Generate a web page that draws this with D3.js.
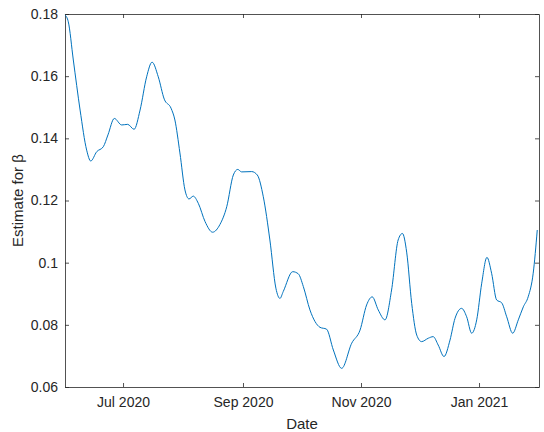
<!DOCTYPE html>
<html>
<head>
    <meta charset="utf-8">
    <title>Estimate for beta</title>
    <script src="https://d3js.org/d3.v7.min.js"></script>
    <style>
        body { margin: 0; background: #fff; }
        .axis text { font-family: "Liberation Sans", Arial, sans-serif; font-size: 14px; fill: #262626; }
        .label { font-family: "Liberation Sans", Arial, sans-serif; font-size: 15px; fill: #262626; }
    </style>
</head>
<body>
    <script>
        // series: day offset from 1 Jun 2020 and estimated beta
        var startDate = "2020-06-01";
        var dayOffsets = [0, 1.7, 4.3, 7.8, 11.2, 13.3, 16.4, 19.8, 22.2, 25.5, 29.3, 32.4, 35.7, 38.8,
            42.2, 45.0, 48.2, 51.3, 54.8, 56.8, 59.4, 62.0, 64.1, 66.3, 68.9, 72.4, 76.3, 80.1, 83.6,
            87.0, 89.3, 91.3, 96.5, 99.4, 102.5, 105.9, 109.0, 111.1, 112.8, 117.7, 120.6, 123.2,
            126.6, 131.8, 135.2, 138.7, 143.0, 148.2, 152.5, 155.9, 158.8, 161.9, 165.4, 168.8,
            172.2, 174.4, 176.6, 179.2, 181.8, 184.3, 187.8, 190.3, 192.9, 195.9, 199.0, 201.6,
            205.0, 207.6, 210.2, 212.8, 215.4, 218.1, 220.5, 223.1, 225.7, 228.3, 231.4, 234.3,
            236.9, 239.4, 242.0, 244.1];
        var beta = [0.1797, 0.1775, 0.1652, 0.1491, 0.1362, 0.1327, 0.1357, 0.1373, 0.1411, 0.1464,
            0.1443, 0.1445, 0.1429, 0.1491, 0.1598, 0.1645, 0.1598, 0.1526, 0.1497, 0.1459, 0.1353,
            0.1234, 0.1205, 0.1214, 0.1191, 0.1132, 0.1098, 0.1123, 0.1180, 0.1282, 0.1300, 0.1292,
            0.1293, 0.1282, 0.1212, 0.1073, 0.0918, 0.0885, 0.0907, 0.0971, 0.0964, 0.0923, 0.0848,
            0.0792, 0.0786, 0.0719, 0.0660, 0.0741, 0.0783, 0.0864, 0.0890, 0.0848, 0.0816, 0.0912,
            0.1073, 0.1094, 0.1034, 0.0869, 0.0767, 0.0746, 0.0757, 0.0762, 0.0735, 0.0698, 0.0751,
            0.0821, 0.0853, 0.0826, 0.0773, 0.0816, 0.0934, 0.1017, 0.0966, 0.0880, 0.0871, 0.0826,
            0.0773, 0.0816, 0.0858, 0.0890, 0.0966, 0.1105];
        var xTicks = ["2020-07-01", "2020-09-01", "2020-11-01", "2021-01-01"];
        var yTicks = [0.06, 0.08, 0.1, 0.12, 0.14, 0.16, 0.18];

        var width = 544, height = 432;
        var margin = {top: 14, right: 5, bottom: 45, left: 65};
        var parse = d3.utcParse("%Y-%m-%d");
        var t0 = parse(startDate);

        var data = dayOffsets.map(function(d, i) {
            return {date: new Date(t0.getTime() + d * 864e5), value: beta[i]};
        });

        var x = d3.scaleUtc()
            .domain([t0, parse("2021-02-01")])
            .range([margin.left, width - margin.right]);
        var y = d3.scaleLinear()
            .domain([0.06, 0.18])
            .range([height - margin.bottom, margin.top]);

        var svg = d3.select("body").append("svg")
            .attr("width", width)
            .attr("height", height);

        var fmtX = d3.utcFormat("%b %Y");
        var fmtY = function(d) { return d === 0.1 ? "0.1" : d3.format(".2f")(d); };
        var tickDates = xTicks.map(parse);

        // bottom + top axes (ticks inward)
        svg.append("g").attr("class", "axis")
            .attr("transform", "translate(0," + y.range()[0] + ")")
            .call(d3.axisBottom(x).tickValues(tickDates).tickFormat(fmtX).tickSizeInner(-4).tickSizeOuter(0).tickPadding(10));
        svg.append("g").attr("class", "axis")
            .attr("transform", "translate(0," + y.range()[1] + ")")
            .call(d3.axisTop(x).tickValues(tickDates).tickFormat("").tickSizeInner(-4).tickSizeOuter(0));
        // left + right axes
        svg.append("g").attr("class", "axis")
            .attr("transform", "translate(" + x.range()[0] + ",0)")
            .call(d3.axisLeft(y).tickValues(yTicks).tickFormat(fmtY).tickSizeInner(-4).tickSizeOuter(0).tickPadding(7));
        svg.append("g").attr("class", "axis")
            .attr("transform", "translate(" + x.range()[1] + ",0)")
            .call(d3.axisRight(y).tickValues(yTicks).tickFormat("").tickSizeInner(-4).tickSizeOuter(0));

        svg.selectAll(".axis path, .axis line")
            .attr("stroke", "#262626")
            .attr("stroke-width", 0.8);

        svg.append("path")
            .datum(data)
            .attr("fill", "none")
            .attr("stroke", "#0072BD")
            .attr("stroke-width", 1)
            .attr("d", d3.line()
                .x(function(d) { return x(d.date); })
                .y(function(d) { return y(d.value); })
                .curve(d3.curveMonotoneX));

        svg.append("text").attr("class", "label")
            .attr("x", (x.range()[0] + x.range()[1]) / 2)
            .attr("y", 429)
            .attr("text-anchor", "middle")
            .text("Date");

        svg.append("text").attr("class", "label")
            .attr("transform", "translate(23," + ((y.range()[0] + y.range()[1]) / 2) + ") rotate(-90)")
            .attr("text-anchor", "middle")
            .text("Estimate for β");
    </script>
</body>
</html>
